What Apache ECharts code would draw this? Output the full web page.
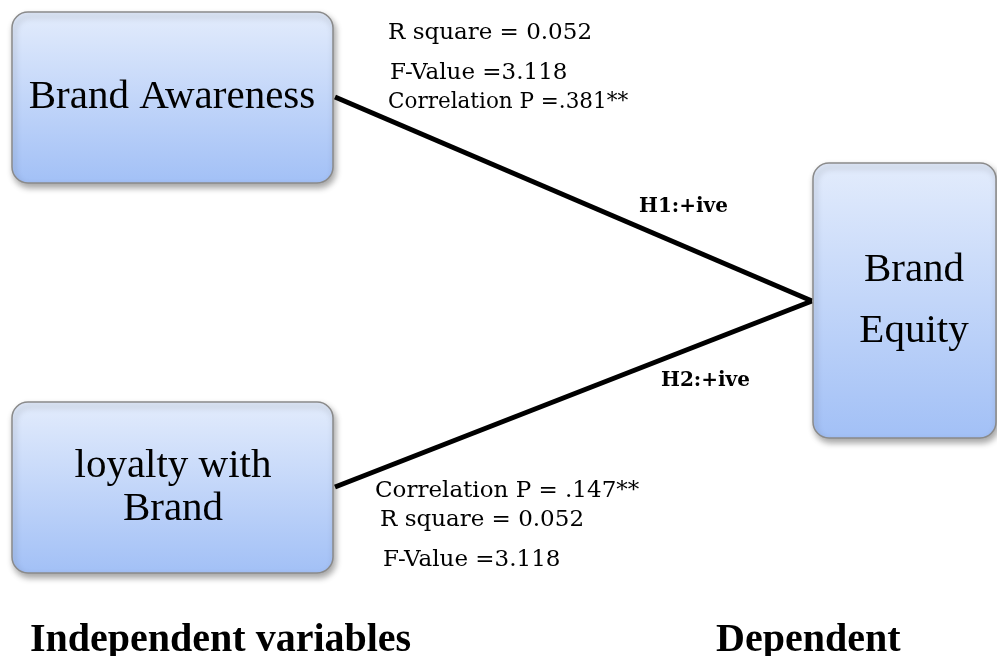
<!DOCTYPE html>
<html>
<head>
<meta charset="utf-8">
<script src="https://cdn.jsdelivr.net/npm/echarts@6/dist/echarts.min.js"></script>
<style>
html, body { margin: 0; padding: 0; background: #fff; }
#main { width: 997px; height: 656px; }
</style>
</head>
<body>
<div id="main"></div>
<script>
// variables of the model
const nodeNames = ['Brand Awareness', 'loyalty with\nBrand', 'Brand\nEquity'];
// box extents in diagram units: [left, top, right, bottom]
const nodeBoxes = [[12, 12, 333, 183], [12, 402, 333, 573], [813, 163, 996, 438]];
const nodeTextX = [172, 173, 914];
const nodeLineHeight = [43, 43, 61];

// hypothesised paths (start -> end)
const pathStart = [[335, 97], [335, 487]];
const pathEnd = [[812, 301], [812, 301]];

// statistics + captions
const noteTexts = [
  'R square = 0.052', 'F-Value =3.118', 'Correlation P =.381**',
  'Correlation P = .147**', 'R square = 0.052', 'F-Value =3.118',
  'H1:+ive', 'H2:+ive',
  'Independent variables', 'Dependent'
];
const noteX = [388, 390, 388, 375, 380, 383, 639, 661, 30, 716];
const noteY = [33, 73, 102, 491, 520, 560, 207, 381, 641, 641];
const noteKind = [0, 0, 1, 0, 0, 0, 2, 2, 3, 3];

const fonts = [
  '23px "DejaVu Serif"',
  '21.5px "DejaVu Serif"',
  'bold 20px "DejaVu Serif"',
  'bold 40px "Liberation Serif"'
];

const chart = echarts.init(document.getElementById('main'));

function renderBox(params, api) {
  const i = params.dataIndex;
  const p0 = api.coord([api.value(0), api.value(1)]);
  const p1 = api.coord([api.value(2), api.value(3)]);
  const w = p1[0] - p0[0];
  const h = p1[1] - p0[1];
  const tx = api.coord([nodeTextX[i], 0])[0];
  return {
    type: 'group',
    children: [
      {
        type: 'rect',
        shape: { x: p0[0], y: p0[1], width: w, height: h, r: 16 },
        style: {
          fill: new echarts.graphic.LinearGradient(0, 0, 0, 1, [
            { offset: 0, color: '#e3ecfc' },
            { offset: 1, color: '#a2c0f6' }
          ]),
          stroke: '#8a8a8a',
          lineWidth: 1.5,
          shadowBlur: 6,
          shadowOffsetX: 2,
          shadowOffsetY: 4,
          shadowColor: 'rgba(0,0,0,0.35)'
        }
      },
      {
        type: 'text',
        x: tx,
        y: p0[1] + h / 2,
        style: {
          text: nodeNames[i],
          font: '41px "Liberation Serif"',
          fill: '#000',
          align: 'center',
          verticalAlign: 'middle',
          lineHeight: nodeLineHeight[i]
        }
      }
    ]
  };
}

function renderNote(params, api) {
  const i = params.dataIndex;
  const p = api.coord([api.value(0), api.value(1)]);
  return {
    type: 'text',
    x: p[0],
    y: p[1],
    style: {
      text: noteTexts[i],
      font: fonts[noteKind[i]],
      fill: '#000',
      align: 'left',
      verticalAlign: 'middle'
    }
  };
}

chart.setOption({
  animation: false,
  backgroundColor: '#fff',
  grid: { left: 0, right: 0, top: 0, bottom: 0 },
  xAxis: { type: 'value', min: 0, max: 997, show: false },
  yAxis: { type: 'value', min: 0, max: 656, inverse: true, show: false },
  series: [
    {
      type: 'lines',
      coordinateSystem: 'cartesian2d',
      z: 1,
      symbol: 'none',
      lineStyle: { color: '#000', width: 5, opacity: 1 },
      data: pathStart.map((s, i) => ({ coords: [s, pathEnd[i]] }))
    },
    {
      type: 'custom',
      z: 2,
      renderItem: renderBox,
      data: nodeBoxes
    },
    {
      type: 'custom',
      z: 3,
      renderItem: renderNote,
      data: noteX.map((x, i) => [x, noteY[i]])
    }
  ]
});
</script>
</body>
</html>
